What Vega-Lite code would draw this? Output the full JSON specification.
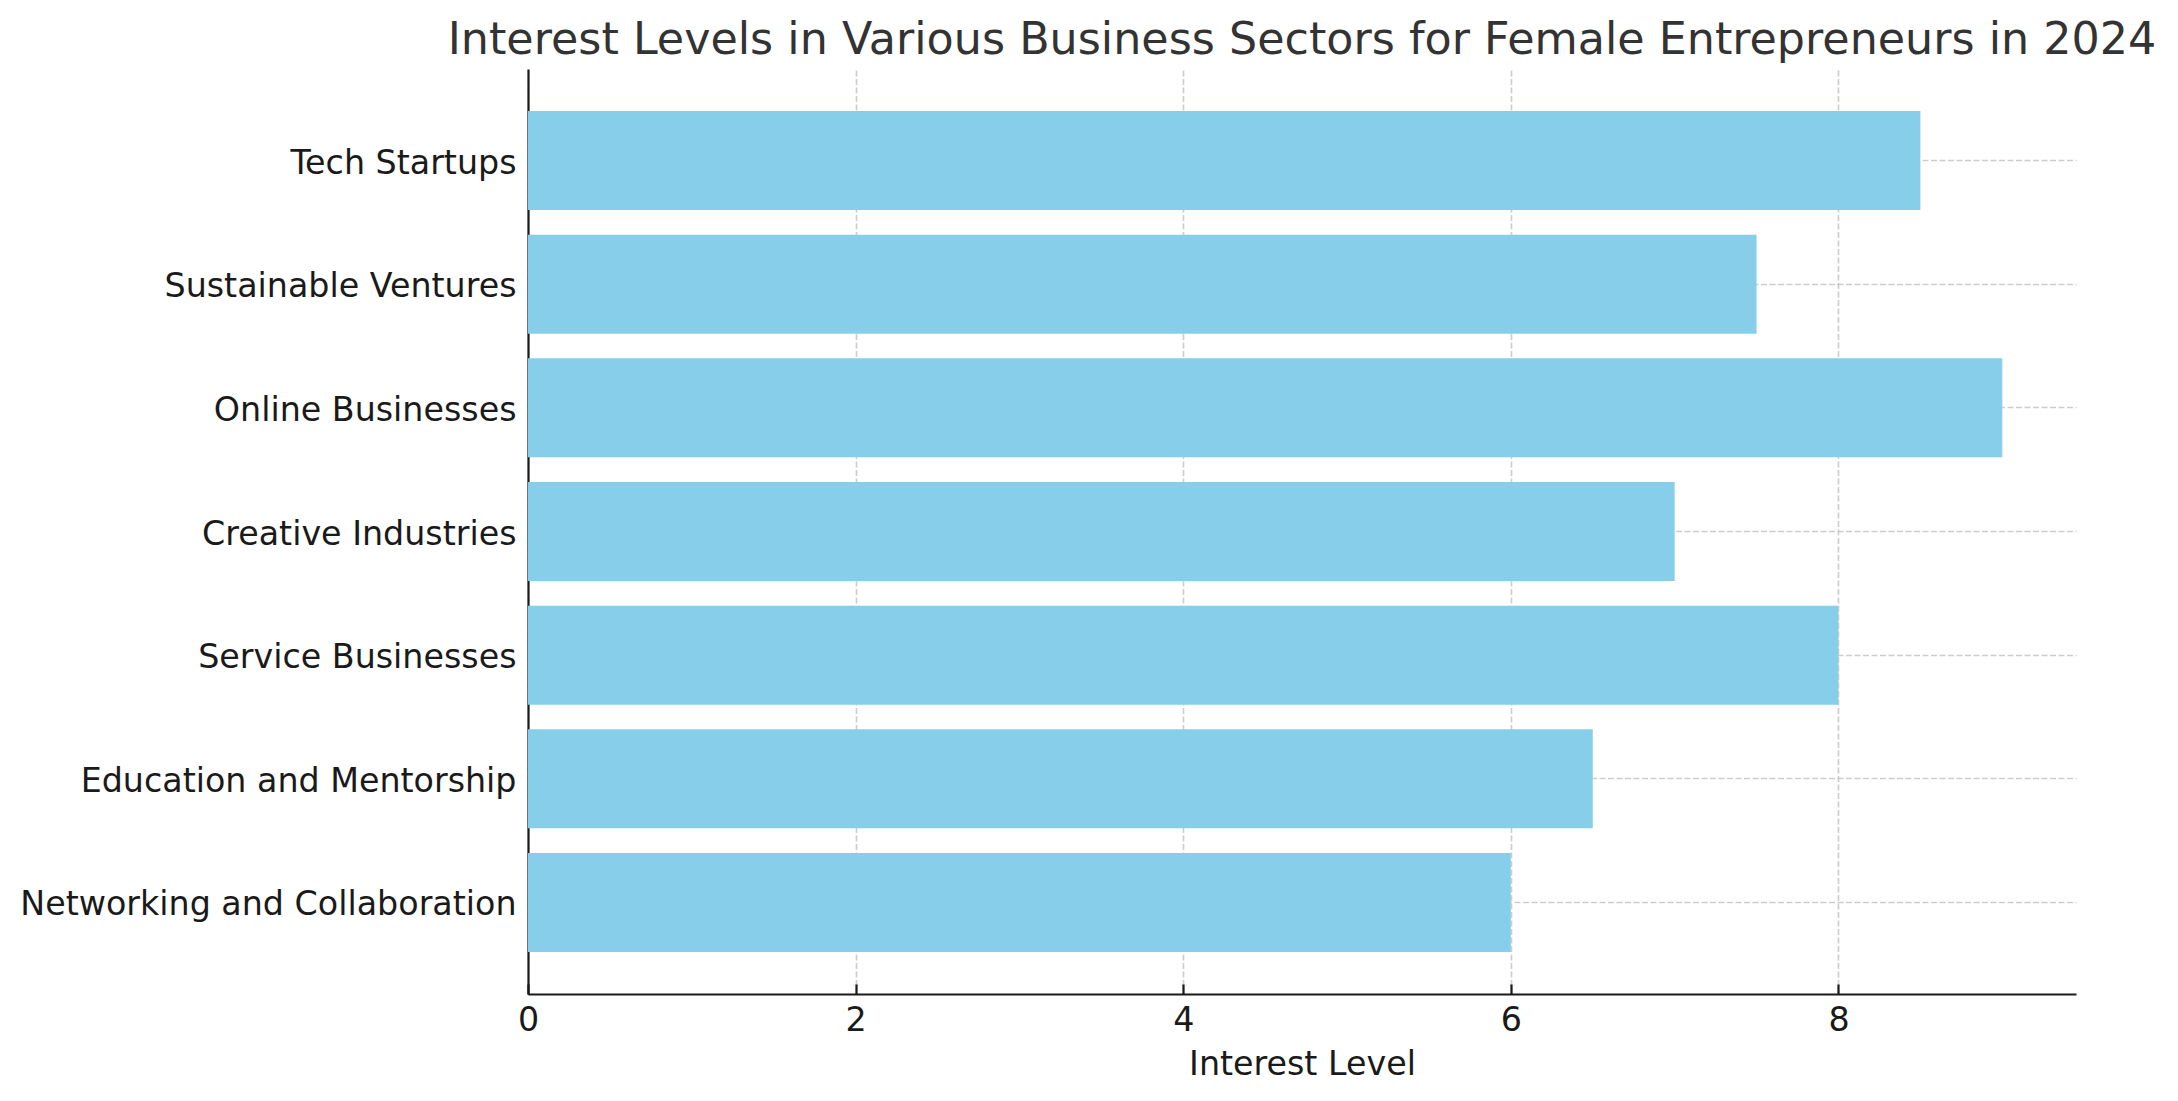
{
  "$schema": "https://vega.github.io/schema/vega-lite/v6.json",
  "autosize": "none",
  "padding": {"left": 528, "top": 69, "right": 102, "bottom": 107},
  "width": 1548,
  "height": 925,
  "background": "white",
  "title": {
    "text": "Interest Levels in Various Business Sectors for Female Entrepreneurs in 2024",
    "font": "DejaVu Sans",
    "fontSize": 44.4,
    "fontWeight": "normal",
    "color": "#333333",
    "anchor": "middle",
    "frame": "group",
    "baseline": "alphabetic",
    "offset": -29
  },
  "data": {
    "values": [
      {"sector": "Tech Startups", "interest": 8.5},
      {"sector": "Sustainable Ventures", "interest": 7.5},
      {"sector": "Online Businesses", "interest": 9},
      {"sector": "Creative Industries", "interest": 7},
      {"sector": "Service Businesses", "interest": 8},
      {"sector": "Education and Mentorship", "interest": 6.5},
      {"sector": "Networking and Collaboration", "interest": 6}
    ]
  },
  "mark": {"type": "bar", "color": "#87CEEB"},
  "encoding": {
    "y": {
      "field": "sector",
      "type": "nominal",
      "sort": null,
      "scale": {"paddingInner": 0.2, "paddingOuter": 0.34},
      "axis": {
        "title": null,
        "bandPosition": 0.5,
        "tickSize": -10,
        "labelPadding": 22,
        "labelBaseline": "middle",
        "labelOffset": 3,
        "labelLimit": 0
      }
    },
    "x": {
      "field": "interest",
      "type": "quantitative",
      "scale": {"domain": [0, 9.45], "nice": false, "zero": true},
      "axis": {
        "title": "Interest Level",
        "values": [0, 2, 4, 6, 8],
        "tickSize": -10,
        "labelPadding": 46,
        "labelBaseline": "alphabetic",
        "labelFlush": false,
        "titleY": 80,
        "titleBaseline": "alphabetic"
      }
    }
  },
  "config": {
    "view": {"stroke": null},
    "axis": {
      "zindex": 1,
      "labelFont": "DejaVu Sans",
      "labelFontSize": 33.3,
      "labelColor": "#1a1a1a",
      "titleFont": "DejaVu Sans",
      "titleFontSize": 33.3,
      "titleFontWeight": "normal",
      "titleColor": "#1a1a1a",
      "domainColor": "#1a1a1a",
      "domainWidth": 2.2,
      "tickColor": "#1a1a1a",
      "tickWidth": 2.2,
      "grid": true,
      "gridColor": "#c0c0c0",
      "gridOpacity": 0.8,
      "gridWidth": 1.6,
      "gridDash": [6, 2.5],
      "labelOverlap": false
    }
  }
}
